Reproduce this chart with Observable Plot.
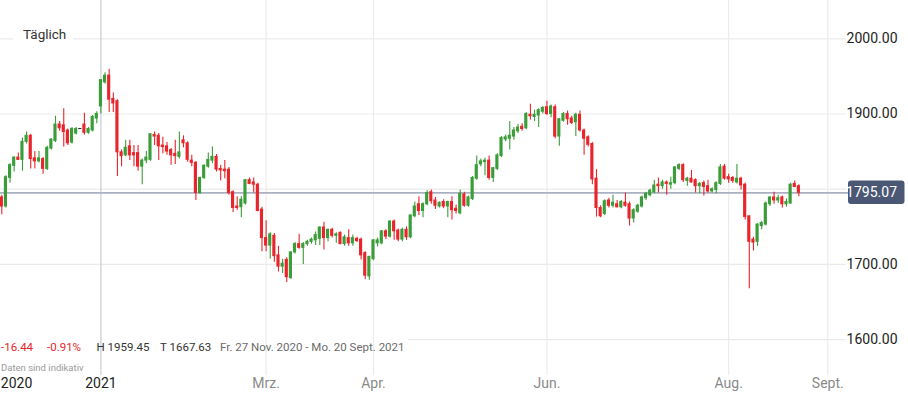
<!DOCTYPE html>
<html><head><meta charset="utf-8">
<script src="https://cdn.jsdelivr.net/npm/d3@7"></script>
<script src="https://cdn.jsdelivr.net/npm/@observablehq/plot@0.6"></script>
<style>
html,body{margin:0;padding:0;background:#fff;}
#wrap{position:relative;width:908px;height:396px;overflow:hidden;}
</style></head><body>
<div id="wrap"></div>
<script>
// Daily gold candles, 27 Nov 2020 - 20 Sept 2021
const opens = [
1789,1777,1815,1831,1842,1839,1863,1871,1841,1837,
1840,1827,1854,1864,1886,1885,1878,1862,1874,1880,
1886,1875,1878,1894,1910,1942,1951,1920,1917,1849,
1845,1857,1848,1848,1830,1838,1839,1872,1871,1858,
1857,1852,1847,1843,1865,1861,1838,1835,1795,1815,
1830,1838,1843,1827,1826,1826,1796,1777,1776,1781,
1812,1809,1806,1773,1735,1725,1738,1712,1697,1706,
1682,1716,1727,1722,1727,1730,1732,1734,1749,1735,
1746,1738,1742,1727,1735,1728,1734,1733,1715,1684,
1707,1728,1728,1744,1737,1757,1745,1733,1746,1736,
1764,1780,1771,1780,1796,1785,1777,1783,1777,1783,
1774,1768,1793,1778,1787,1814,1833,1836,1838,1815,
1827,1844,1866,1867,1870,1877,1883,1881,1899,1896,
1898,1903,1909,1900,1909,1870,1891,1900,1894,1889,
1899,1878,1869,1860,1814,1775,1767,1785,1778,1780,
1776,1782,1780,1761,1770,1777,1788,1792,1796,1806,
1804,1809,1806,1808,1827,1832,1811,1814,1812,1804,
1808,1804,1797,1799,1807,1830,1816,1815,1809,1814,
1806,1764,1733,1730,1751,1753,1780,1789,1785,1789,
1780,1781,1807,1804];
const highs = [
1792,1818,1834,1843,1848,1868,1876,1873,1850,1850,
1842,1857,1867,1897,1890,1907,1880,1882,1882,1880,
1901,1882,1898,1903,1946,1955,1959.45,1928,1919,1852,
1865,1865,1858,1858,1840,1850,1874,1876,1874,1869,
1862,1854,1865,1876,1871,1863,1845,1837,1816,1833,
1848,1856,1846,1832,1838,1829,1798,1790,1790,1813,
1815,1815,1808,1776,1758,1742,1741,1724,1707,1709,
1717,1729,1740,1729,1732,1735,1743,1750,1756,1747,
1748,1742,1743,1739,1746,1739,1736,1735,1717,1711,
1733,1735,1745,1746,1758,1759,1747,1748,1750,1766,
1783,1790,1782,1798,1799,1789,1783,1786,1784,1790,
1779,1799,1796,1791,1817,1844,1840,1841,1844,1829,
1847,1870,1872,1890,1882,1886,1887,1902,1913,1905,
1907,1910,1917,1912,1912,1894,1902,1904,1897,1901,
1904,1880,1871,1862,1826,1778,1786,1788,1792,1785,
1785,1795,1783,1774,1780,1791,1796,1800,1812,1815,
1812,1811,1816,1830,1834,1834,1816,1825,1814,1809,
1811,1812,1802,1810,1833,1833,1820,1817,1833,1816,
1808,1764,1736,1754,1757,1783,1790,1796,1792,1791,
1787,1808,1811,1806];
const lows = [
1766,1775,1808,1823,1838,1824,1860,1827,1827,1835,
1820,1825,1852,1862,1877,1856,1858,1860,1872,1880,
1872,1873,1876,1887,1900,1940,1902,1902,1817,1830,
1843,1838,1830,1824,1806,1834,1837,1858,1838,1847,
1845,1832,1833,1840,1855,1836,1830,1785,1793,1813,
1828,1834,1823,1811,1814,1792,1769,1772,1762,1779,
1806,1795,1770,1717,1717,1707,1703,1690,1688,1676,
1680,1714,1720,1700,1724,1727,1725,1725,1719,1730,
1735,1728,1726,1724,1724,1724,1729,1706,1680,1679,
1705,1723,1726,1733,1735,1732,1730,1730,1732,1734,
1762,1765,1762,1778,1780,1773,1775,1774,1762,1759,
1767,1766,1776,1776,1785,1812,1830,1818,1812,1809,
1825,1842,1863,1852,1865,1874,1877,1879,1892,1890,
1882,1900,1898,1895,1867,1857,1889,1885,1886,1870,
1876,1845,1856,1806,1763,1762,1765,1775,1775,1775,
1774,1776,1751,1755,1768,1775,1785,1790,1794,1795,
1800,1792,1800,1806,1825,1809,1804,1808,1795,1794,
1791,1795,1795,1794,1805,1812,1808,1808,1807,1799,
1759,1667.63,1718,1724,1746,1751,1777,1780,1781,1775,
1776,1780,1802,1790];
const closes = [
1777,1816,1832,1842,1839,1863,1871,1840,1837,1841,
1827,1855,1866,1886,1881,1876,1861,1880,1880,1880,
1875,1880,1896,1900,1945,1951,1919,1914,1849,1844,
1855,1845,1845,1830,1838,1842,1873,1870,1857,1856,
1850,1845,1844,1849,1861,1839,1835,1795,1815,1831,
1839,1843,1826,1825,1824,1795,1775,1775,1786,1812,
1807,1806,1771,1735,1725,1740,1711,1697,1701,1683,
1716,1727,1722,1727,1730,1733,1739,1749,1735,1746,
1738,1740,1727,1736,1728,1735,1731,1712,1685,1710,
1732,1732,1744,1737,1757,1744,1733,1746,1736,1765,
1777,1771,1780,1795,1784,1778,1782,1777,1783,1772,
1771,1794,1778,1789,1815,1832,1837,1838,1815,1828,
1845,1868,1869,1871,1878,1882,1880,1900,1897,1899,
1905,1908,1900,1910,1870,1893,1900,1893,1888,1899,
1878,1867,1859,1813,1775,1764,1784,1778,1782,1776,
1783,1778,1761,1772,1778,1789,1794,1798,1805,1804,
1809,1807,1808,1829,1832,1812,1814,1809,1804,1807,
1803,1797,1800,1808,1829,1814,1813,1811,1814,1805,
1763,1730,1729,1753,1755,1781,1789,1785,1788,1780,
1783,1806,1803,1795.07];

// x-axis ticks: label and the candle index where it sits
const tickLabels = ["2020", "2021", "Mrz.", "Apr.", "Jun.", "Aug.", "Sept."];
const tickIndex  = [0, 24, 64, 90, 132, 176, 200];
// y-axis grid values; the 1800 label is hidden behind the last-price box
const yTicks = [1600, 1700, 1800, 1900, 2000];
const yLabels = [1600, 1700, 1900, 2000];
const lastPrice = 1795.07;
const stats = ["-16.44", "-0.91%", "H 1959.45", "T 1667.63", "Fr. 27 Nov. 2020 - Mo. 20 Sept. 2021"];

const candles = opens.map((o, i) => ({i, open: o, high: highs[i], low: lows[i], close: closes[i]}));
const ticks = tickLabels.map((label, k) => ({label, idx: tickIndex[k]}));
const GREEN = "#3a9d3a", RED = "#e8252b";
const colorOf = d => d.close > d.open ? GREEN : d.close < d.open ? RED : "#222222";

const plot = Plot.plot({
  width: 908, height: 396,
  marginTop: 0, marginBottom: 21, marginLeft: 0, marginRight: 70,
  x: {type: "linear", domain: [-0.315, 202.6], axis: null},
  y: {domain: [1552.3, 2050.9], axis: null},
  style: {fontFamily: "Roboto, sans-serif", background: "#fff", overflow: "visible"},
  marks: [
    Plot.ruleY(yTicks, {stroke: "#ebebeb", strokeWidth: 1.2, insetRight: -8}),
    Plot.ruleX(ticks.filter(t => t.idx > 0), {x: "idx", stroke: t => t.label === "2021" ? "#c8ccd4" : "#ececec", strokeWidth: 1.2}),
    Plot.ruleY([lastPrice], {stroke: "#a9b1c1", strokeWidth: 1.6, insetRight: -12}),
    Plot.ruleX(candles, {x: "i", y1: "low", y2: "high", stroke: colorOf, strokeWidth: 1.1}),
    Plot.rect(candles, {x1: d => d.i - 0.38, x2: d => d.i + 0.38, y1: "open", y2: "close", fill: colorOf, insetTop: -0.5, insetBottom: -0.5}),
    Plot.text(yLabels, {y: d => d, text: d => d.toFixed(2), frameAnchor: "right", dx: 59, textAnchor: "end", fontSize: 14, fill: "#222"}),
    Plot.text(ticks.slice(1), {x: "idx", text: "label", frameAnchor: "bottom", dy: 12, fontSize: 14, fill: t => t.label === "2021" ? "#222" : "#8a8a8a"}),
    Plot.text(ticks.slice(0, 1), {x: "idx", text: "label", frameAnchor: "bottom", dy: 12, dx: -1, textAnchor: "start", fontSize: 14, fill: "#222"})
  ]
});

document.getElementById("wrap").appendChild(plot);
const svg = d3.select(plot);
// white strip under the stats row, placed just above the horizontal grid (hides it there)
const markGroups = Array.from(plot.children).filter(n => n.tagName.toLowerCase() === "g");
const strip = document.createElementNS("http://www.w3.org/2000/svg", "rect");
d3.select(strip).attr("x", 0).attr("y", 331).attr("width", 408).attr("height", 22).attr("fill", "#fff");
plot.insertBefore(strip, markGroups[1]);

// last price box
const yp = plot.scale("y").apply(lastPrice);
svg.append("rect").attr("x", 848).attr("y", yp - 11.8).attr("width", 56.5).attr("height", 23.5).attr("rx", 3).attr("fill", "#4b5875");
svg.append("text").attr("x", 897).attr("y", yp).attr("dy", "0.35em").attr("text-anchor", "end")
  .attr("fill", "#fff").attr("font-size", 14).attr("font-family", "Roboto, sans-serif").text(lastPrice.toFixed(2));

// "Täglich" label
svg.append("rect").attr("x", 13).attr("y", 27).attr("width", 60).attr("height", 17).attr("fill", "#fff");
svg.append("text").attr("x", 23).attr("y", 39).attr("text-anchor", "start").attr("font-size", 13.5)
  .attr("fill", "#333").attr("font-family", "Roboto, sans-serif").text("Täglich");

// stats row
const statX = [1, 47, 96.5, 160, 220];
const statFill = ["#e3262b", "#e3262b", "#333", "#333", "#6b6b6b"];
stats.forEach((s, k) => {
  svg.append("text").attr("x", statX[k]).attr("y", 350.6).attr("text-anchor", "start").attr("font-size", 11.5)
    .attr("font-family", "Roboto, sans-serif").attr("fill", statFill[k]).text(s);
});
svg.append("text").attr("x", 1).attr("y", 371).attr("text-anchor", "start").attr("font-size", 9.5)
  .attr("font-family", "Roboto, sans-serif").attr("fill", "#9a9a9a").text("Daten sind indikativ");
</script>
</body></html>
